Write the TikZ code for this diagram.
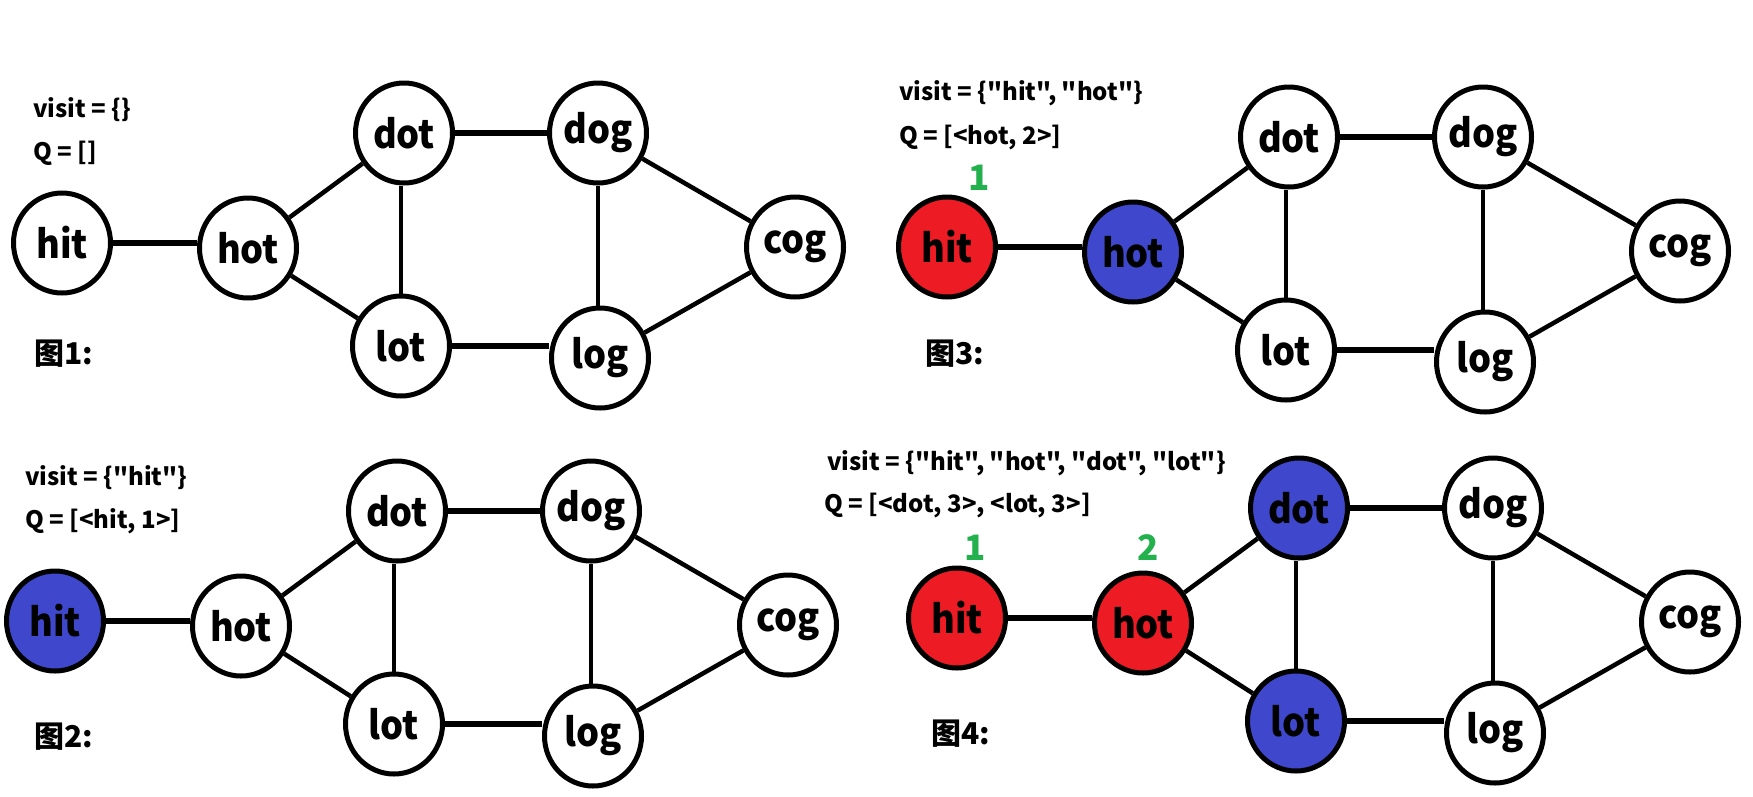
\documentclass[tikz,border=0pt]{standalone}
\usepackage{fontspec}
\setmainfont{Noto Sans CJK SC}[Ligatures=TeXOff]
\newfontfamily\wordfont{Noto Sans CJK SC}[Ligatures=TeXOff, FakeStretch=0.93]
\usetikzlibrary{shapes.geometric}
\definecolor{nodered}{RGB}{237,28,36}
\definecolor{nodeblue}{RGB}{63,72,204}
\definecolor{numgreen}{RGB}{34,177,76}
\tikzset{
  vert/.style={ellipse, draw=black, line width=5pt, fill=white,
    minimum width=97pt, minimum height=100pt, inner sep=0pt,
    font=\wordfont\fontsize{39}{41}\selectfont\bfseries},
  done/.style={fill=nodered},
  queued/.style={fill=nodeblue},
  edge/.style={line width=4.5pt},
  hedge/.style={line width=5.5pt},
  info/.style={anchor=west, inner sep=0pt, font=\fontsize{24}{26}\selectfont\bfseries},
  figlabel/.style={anchor=west, inner sep=0pt, font=\fontsize{30}{32}\selectfont\bfseries},
  order/.style={inner sep=0pt, text=numgreen, font=\fontsize{35}{37}\selectfont\bfseries},
}
% one copy of the word graph: prefix, x/y offset, fills of hit, hot, dot, lot
\newcommand\wordgraph[7]{%
  \begin{scope}[shift={(#2,#3)}]
    \node[vert,#4] (#1hit) at (62,243) {\makebox[0pt]{hit}};
    \node[vert,#5] (#1hot) at (248,248) {\makebox[0pt]{hot}};
    \node[vert,#6] (#1dot) at (404,133) {\makebox[0pt]{dot}};
    \node[vert]    (#1dog) at (598,133) {\makebox[0pt]{dog}};
    \node[vert]    (#1cog) at (795,247) {\makebox[0pt]{cog}};
    \node[vert,#7] (#1lot) at (401,346) {\makebox[0pt]{lot}};
    \node[vert]    (#1log) at (600,358) {\makebox[0pt]{log}};
    \draw[hedge] (#1hit.east) -- (#1hit.east -| #1hot.west);
    \draw[edge]  (#1hot) -- (#1dot);
    \draw[edge]  (#1hot) -- (#1lot);
    \draw[edge]  (#1lot.north) -- (#1lot.north |- #1dot.south);
    \draw[hedge] (#1dot) -- (#1dog);
    \draw[hedge] (#1lot.east) -- (#1lot.east -| #1log.west);
    \draw[edge]  (#1dog.south) -- (#1dog.south |- #1log.north);
    \draw[edge]  (#1dog) -- (#1cog);
    \draw[edge]  (#1log) -- (#1cog);
  \end{scope}}
\begin{document}
\begin{tikzpicture}[x=1pt, y=-1pt]
  \fill[white] (0,0) rectangle (1753,796);
  \useasboundingbox (0,0) rectangle (1753,796);

  % step 1
  \wordgraph{a}{0}{0}{}{}{}{}
  \node[info] (a-visit) at (33,110) {visit = \{\}};
  \node[info] (a-q) at (33,153) {Q = []};
  \node[figlabel] (a-fig) at (34,354) {图1:};

  % step 2
  \wordgraph{b}{-7}{378}{queued}{}{}{}
  \node[info] (b-visit) at (25,478) {visit = \{"hit"\}};
  \node[info] (b-q) at (25,521) {Q = [<hit, 1>]};
  \node[figlabel] (b-fig) at (34,737) {图2:};

  % step 3
  \wordgraph{c}{885}{4}{done}{queued}{}{}
  \node[info] (c-visit) at (899,93) {visit = \{"hit", "hot"\}};
  \node[info] (c-q) at (899,137) {Q = [<hot, 2>]};
  \node[figlabel] (c-fig) at (925,354) {图3:};
  \node[order] (c-one) at (979,178) {1};

  % step 4
  \wordgraph{d}{895}{375}{done}{done}{queued}{queued}
  \node[info] (d-visit) at (827,463) {visit = \{"hit", "hot", "dot", "lot"\}};
  \node[info] (d-q) at (824,505) {Q = [<dot, 3>, <lot, 3>]};
  \node[figlabel] (d-fig) at (931,734) {图4:};
  \node[order] (d-one) at (975,548) {1};
  \node[order] (d-two) at (1148,548) {2};
\end{tikzpicture}
\end{document}
